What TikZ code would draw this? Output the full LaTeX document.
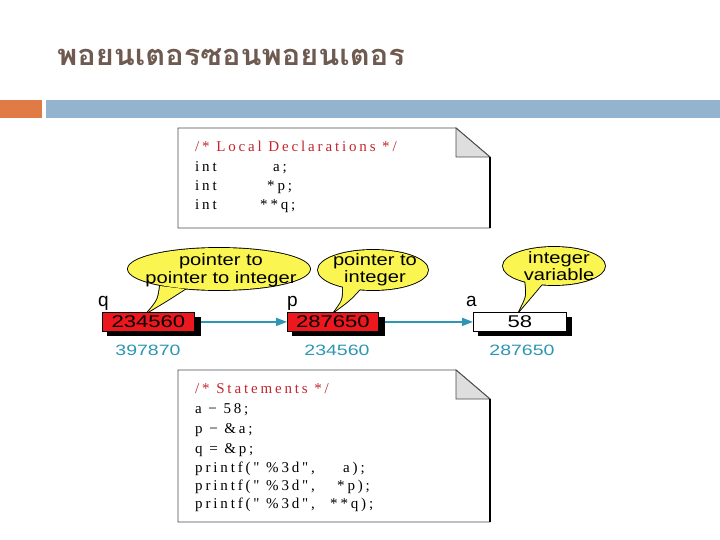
\documentclass[tikz,border=0pt]{standalone}
\usepackage{fontspec}
\setmainfont{Liberation Sans}
\newfontfamily\thaifont[Script=Thai]{Loma}
\newfontfamily\codefont[LetterSpace=19]{Liberation Serif}
\newfontfamily\labfont{Liberation Sans}
\usetikzlibrary{arrows.meta}
\definecolor{titlec}{RGB}{110,90,80}
\definecolor{orangebar}{RGB}{224,123,69}
\definecolor{bluebar}{RGB}{147,179,207}
\definecolor{boxred}{RGB}{236,24,30}
\definecolor{codered}{RGB}{196,38,45}
\definecolor{teal}{RGB}{44,150,180}
\definecolor{bubble}{RGB}{250,245,80}
\definecolor{foldgray}{RGB}{222,222,222}
\newcommand{\wide}[1]{\scalebox{1.3}[1]{#1}}
\newcommand{\bwide}[1]{\scalebox{1.22}[1]{#1}}
\tikzset{
  code/.style={anchor=base west, inner sep=0pt, font=\codefont\fontsize{15}{17}\selectfont},
  codered/.style={code, text=codered},
  btext/.style={anchor=base, inner sep=0pt, font=\labfont\fontsize{16.5}{17}\selectfont},
  vlabel/.style={anchor=base west, inner sep=0pt, font=\labfont\fontsize{19}{21}\selectfont},
  addr/.style={anchor=base, inner sep=0pt, font=\labfont\fontsize{15}{17}\selectfont, text=teal},
  cell/.style={draw=black, line width=0.8pt, minimum width=92pt, minimum height=19pt, inner sep=0pt, font=\labfont\fontsize{17}{19}\selectfont},
  docline/.style={draw=black!70, line width=0.9pt},
  conn/.style={draw=teal, line width=1.6pt, -{Triangle[length=11pt,width=8pt]}},
}
\begin{document}
\begin{tikzpicture}[x=1pt,y=-1pt]
\useasboundingbox (0,0) rectangle (720,540);
\fill[white] (0,0) rectangle (720,540);
% title
\node[anchor=base west, inner sep=0pt, text=titlec, font=\thaifont\bfseries\fontsize{29}{31}\selectfont] (title) at (57,66) {\scalebox{1.06}[1]{พอยนเตอรซอนพอยนเตอร}};
\fill[orangebar] (0,100) rectangle (42,118);
\fill[bluebar] (46,100) rectangle (720,118);
% top code box
\draw[docline] (178,228) -- (178,128) -- (456,128) -- (490,157) -- (490,228) -- cycle;
\filldraw[fill=foldgray, docline] (456,128) -- (456,157) -- (490,157) -- cycle;
\draw[black, line width=1.5pt] (490,157) -- (490,228);
\node[codered] (c1) at (195,152) {/* Local Declarations */};
\node[code] (c2a) at (195,172) {int};
\node[code] (c2b) at (273,172) {a;};
\node[code] (c3a) at (195,191) {int};
\node[code] (c3b) at (267,191) {*p;};
\node[code] (c4a) at (195,210) {int};
\node[code] (c4b) at (260,210) {**q;};
% bubbles (outline trick)
\begin{scope}
\draw[line width=1.8pt] (219,269) ellipse [x radius=91, y radius=21];
\draw[line width=1.8pt] (160,286) .. controls (158,300) .. (148,312) .. controls (168,300) .. (185,289) -- cycle;
\draw[line width=1.8pt] (373,270) ellipse [x radius=55, y radius=20];
\draw[line width=1.8pt] (343,286) .. controls (343,300) .. (335,311) .. controls (350,300) .. (360,289) -- cycle;
\draw[line width=1.8pt] (554,266) ellipse [x radius=51, y radius=19];
\draw[line width=1.8pt] (525,280) .. controls (527,296) .. (520,310) .. controls (532,296) .. (542,284) -- cycle;
\fill[bubble] (219,269) ellipse [x radius=91, y radius=21];
\fill[bubble] (160,286) .. controls (158,300) .. (148,312) .. controls (168,300) .. (185,289) -- cycle;
\fill[bubble] (373,270) ellipse [x radius=55, y radius=20];
\fill[bubble] (343,286) .. controls (343,300) .. (335,311) .. controls (350,300) .. (360,289) -- cycle;
\fill[bubble] (554,266) ellipse [x radius=51, y radius=19];
\fill[bubble] (525,280) .. controls (527,296) .. (520,310) .. controls (532,296) .. (542,284) -- cycle;
\end{scope}
\node[btext] (b1a) at (221,265) {\bwide{pointer to}};
\node[btext] (b1b) at (221,283) {\bwide{pointer to integer}};
\node[btext] (b2a) at (375,265) {\bwide{pointer to}};
\node[btext] (b2b) at (375,282) {\bwide{integer}};
\node[btext] (b3a) at (559,263) {\bwide{integer}};
\node[btext] (b3b) at (559,280) {\bwide{variable}};
% variable labels
\node[vlabel] (lq) at (98,306) {q};
\node[vlabel] (lp) at (287,306) {p};
\node[vlabel] (la) at (466,306) {a};
% cells with shadows
\fill[black] (107,317) rectangle (201,336);
\fill[black] (292,317) rectangle (385,336);
\fill[black] (478,317) rectangle (572,336);
\node[cell, fill=boxred, anchor=north west] (q) at (102,312) {\wide{234560}};
\node[cell, fill=boxred, anchor=north west, minimum width=91pt] (p) at (287,312) {\wide{287650}};
\node[cell, fill=white, anchor=north west, minimum width=93pt] (a) at (473,312) {\wide{58}};
\draw[conn] (q.east) ++(6,0) coordinate (qe) -- (p.west);
\draw[conn] (p.east) ++(6,0) coordinate (pe) -- (a.west);
% addresses
\node[addr] (aq) at (148,355) {\wide{397870}};
\node[addr] (ap) at (337,355) {\wide{234560}};
\node[addr] (aa) at (522,355) {\wide{287650}};
% bottom code box
\draw[docline] (178,522) -- (178,370) -- (456,370) -- (490,399) -- (490,522) -- cycle;
\filldraw[fill=foldgray, docline] (456,370) -- (456,399) -- (490,399) -- cycle;
\draw[black, line width=1.5pt] (490,399) -- (490,522);
\node[codered] (s1) at (195,393) {/* Statements */};
\node[code] (s2) at (195,413) {a − 58;};
\node[code] (s3) at (195,433) {p − \&a;};
\node[code] (s4) at (195,453) {q = \&p;};
\node[code] (s5a) at (195,472) {printf(" \%3d",};
\node[code] (s5b) at (343,472) {a);};
\node[code] (s6a) at (195,490) {printf(" \%3d",};
\node[code] (s6b) at (337,490) {*p);};
\node[code] (s7a) at (195,508) {printf(" \%3d",};
\node[code] (s7b) at (330,508) {**q);};
\end{tikzpicture}
\end{document}
